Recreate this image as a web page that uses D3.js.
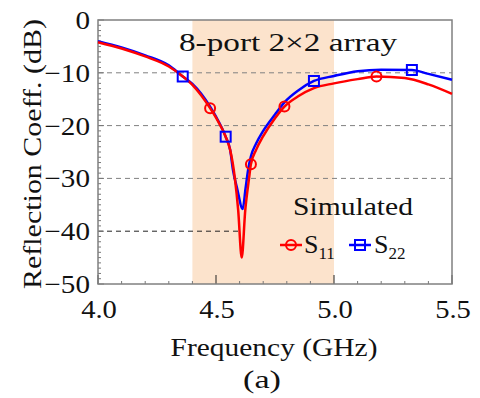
<!DOCTYPE html>
<html><head><meta charset="utf-8">
<script src="https://cdn.jsdelivr.net/npm/d3@7"></script>
</head><body style="margin:0">
<svg id="c" width="480" height="398"></svg>
<script>
// Data
const xTicks = [4.0, 4.5, 5.0, 5.5];
const yTicks = [0, -10, -20, -30, -40, -50];
const band = [4.4, 5.0];
const s11Freq = [4.0, 4.1, 4.2, 4.3, 4.36, 4.4, 4.475, 4.5, 4.541, 4.56, 4.58, 4.594, 4.609, 4.624, 4.64, 4.648, 4.67, 4.7, 4.75, 4.79, 4.85, 4.915, 5.0, 5.1, 5.18, 5.3, 5.4, 5.5];
const s11dB   = [-4.2, -5.4, -6.9, -8.8, -10.7, -12.3, -16.7, -18.5, -22.1, -24.6, -30, -36, -45, -36, -30, -27.3, -24.6, -22.0, -18.6, -16.4, -14.4, -12.9, -12.0, -11.2, -10.7, -11.0, -12.2, -14.0];
const s22Freq = [4.0, 4.1, 4.2, 4.3, 4.359, 4.4, 4.475, 4.5, 4.541, 4.56, 4.572, 4.59, 4.613, 4.625, 4.636, 4.648, 4.67, 4.7, 4.75, 4.79, 4.85, 4.915, 5.0, 5.1, 5.2, 5.33, 5.4, 5.5];
const s22dB   = [-4.0, -5.2, -6.7, -8.6, -10.7, -12.1, -16.4, -18.3, -22.1, -24.6, -28.4, -32, -35.8, -32, -28.4, -25.8, -23.4, -21.0, -17.9, -15.6, -13.3, -11.55, -10.6, -9.7, -9.4, -9.47, -10.2, -11.3];
const s11MarkF = [4.475, 4.648, 4.79, 5.18];
const s11MarkV = [-16.7, -27.3, -16.4, -10.7];
const s22MarkF = [4.359, 4.541, 4.915, 5.33];
const s22MarkV = [-10.7, -22.1, -11.55, -9.47];
const gridVals = [-10, -20, -30];
const refLine = {value: -40, to: 4.605};

const svg = d3.select("#c");
const m = {l: 98, t: 20, r: 452, b: 284};
const x = d3.scaleLinear().domain([4.0, 5.5]).range([m.l, m.r]);
const y = d3.scaleLinear().domain([-50, 0]).range([m.b, m.t]);
const FS = 26;
function txt(sel) {
  sel.style("font-family", '"Liberation Serif"').attr("font-size", FS).attr("fill", "#111");
}
// stretch text horizontally (reference glyphs are wider than Times)
function widen(sel, k) {
  sel.each(function () {
    const n = this.getComputedTextLength();
    d3.select(this).attr("textLength", n * k).attr("lengthAdjust", "spacingAndGlyphs");
  });
}
function fitTo(sel, w) {
  sel.attr("textLength", w).attr("lengthAdjust", "spacingAndGlyphs");
}

// band
svg.append("rect").attr("x", x(band[0])).attr("y", m.t).attr("width", x(band[1]) - x(band[0])).attr("height", m.b - m.t).attr("fill", "#fce3cc");

// grid
svg.selectAll(".g").data(gridVals).join("line")
  .attr("x1", m.l).attr("x2", m.r).attr("y1", d => y(d)).attr("y2", d => y(d))
  .attr("stroke", "#808080").attr("stroke-width", 1).attr("stroke-dasharray", "5,4");
svg.append("line").attr("x1", m.l).attr("x2", x(refLine.to)).attr("y1", y(refLine.value)).attr("y2", y(refLine.value))
  .attr("stroke", "#222").attr("stroke-width", 1).attr("stroke-dasharray", "5,4");

// minor ticks
const yMinor = d3.range(-50, 0.01, 1);
svg.selectAll(".ym").data(yMinor).join("line")
  .attr("x1", m.l).attr("x2", d => m.l + (d % 10 === 0 ? 6 : 3)).attr("y1", d => y(d)).attr("y2", d => y(d))
  .attr("stroke", "#777").attr("stroke-width", 1);
const isMaj = d => Math.abs(d * 2 - Math.round(d * 2)) < 1e-6;
const xMinor = d3.range(4.0, 5.501, 0.1);
svg.selectAll(".xm").data(xMinor).join("line")
  .attr("y1", m.b).attr("y2", d => m.b - (isMaj(d) ? 9 : 3)).attr("x1", d => x(d)).attr("x2", d => x(d))
  .attr("stroke", d => isMaj(d) ? "#222" : "#777").attr("stroke-width", 1);

// frame
svg.append("rect").attr("x", m.l).attr("y", m.t).attr("width", m.r - m.l).attr("height", m.b - m.t)
  .attr("fill", "none").attr("stroke", "#808080").attr("stroke-width", 1.5);

// curves
const line = d3.line().x(d => x(d[0])).y(d => y(d[1])).curve(d3.curveMonotoneX);
svg.append("path").datum(d3.zip(s22Freq, s22dB)).attr("d", line).attr("fill", "none").attr("stroke", "#0000ff").attr("stroke-width", 2.5);
svg.append("path").datum(d3.zip(s11Freq, s11dB)).attr("d", line).attr("fill", "none").attr("stroke", "#ff0000").attr("stroke-width", 2.5);

// markers
svg.selectAll(".mc").data(d3.zip(s11MarkF, s11MarkV)).join("circle")
  .attr("cx", d => x(d[0])).attr("cy", d => y(d[1])).attr("r", 5).attr("fill", "none").attr("stroke", "#ff0000").attr("stroke-width", 2);
svg.selectAll(".ms").data(d3.zip(s22MarkF, s22MarkV)).join("rect")
  .attr("x", d => x(d[0]) - 5).attr("y", d => y(d[1]) - 5).attr("width", 10).attr("height", 10).attr("fill", "none").attr("stroke", "#0000ff").attr("stroke-width", 2);

// tick labels
svg.selectAll(".yl").data(yTicks).join("text").call(txt)
  .attr("x", 90).attr("y", d => y(d) + 9).attr("text-anchor", "end").text(d => d3.format("d")(d)).call(widen, 1.12);
svg.selectAll(".xl").data(xTicks).join("text").call(txt)
  .attr("x", d => x(d) + 1).attr("y", 318).attr("text-anchor", "middle").text(d => d.toFixed(1)).call(widen, 1.1);

// axis titles
svg.append("text").call(txt).attr("transform", "translate(41,154) rotate(-90)").attr("text-anchor", "middle").text("Reflection Coeff. (dB)").call(fitTo, 270);
svg.append("text").call(txt).attr("x", 274).attr("y", 356).attr("text-anchor", "middle").text("Frequency (GHz)").call(fitTo, 207);
svg.append("text").call(txt).attr("x", 262).attr("y", 388).attr("text-anchor", "middle").text("(a)").call(fitTo, 38);

// annotations
svg.append("text").call(txt).attr("x", 288).attr("y", 51).attr("text-anchor", "middle").text("8-port 2×2 array").call(fitTo, 218);
svg.append("text").call(txt).attr("x", 293).attr("y", 215).text("Simulated").call(fitTo, 120);

// legend
const lg = svg.append("g");
lg.append("line").attr("x1", 280).attr("x2", 302).attr("y1", 245).attr("y2", 245).attr("stroke", "#ff0000").attr("stroke-width", 2.5);
lg.append("circle").attr("cx", 291).attr("cy", 245).attr("r", 5).attr("fill", "none").attr("stroke", "#ff0000").attr("stroke-width", 2);
const t1 = lg.append("text").call(txt).attr("x", 304).attr("y", 253);
t1.append("tspan").text("S");
t1.append("tspan").attr("font-size", 17).attr("dy", 6).text("11");
lg.append("line").attr("x1", 349).attr("x2", 371).attr("y1", 245).attr("y2", 245).attr("stroke", "#0000ff").attr("stroke-width", 2.5);
lg.append("rect").attr("x", 355).attr("y", 240).attr("width", 10).attr("height", 10).attr("fill", "none").attr("stroke", "#0000ff").attr("stroke-width", 2);
const t2 = lg.append("text").call(txt).attr("x", 374).attr("y", 253);
t2.append("tspan").text("S");
t2.append("tspan").attr("font-size", 17).attr("dy", 6).text("22");
</script>
</body></html>
